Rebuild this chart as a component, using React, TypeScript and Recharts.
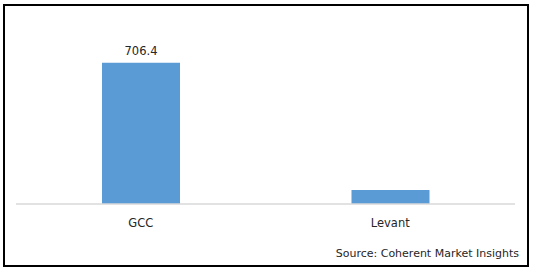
import { FC } from 'react';
import { BarChart, Bar, XAxis, YAxis, LabelList } from 'recharts';

const categories = ['GCC', 'Levant'];
const values = [706.4, 70];
const shownLabels = ['706.4', ''];

const data = categories.map((name, i) => ({ name, value: values[i], label: shownLabels[i] }));

const FONT = '"DejaVu Sans", Verdana, sans-serif';

const App: FC = () => {
	return (
		<div style={{ position: 'fixed', left: 0, top: 0, width: 534, height: 271, background: '#fff' }}>
			<div
				style={{
					position: 'absolute',
					left: 3,
					top: 4,
					width: 522,
					height: 259,
					border: '2px solid #000',
				}}
			></div>
			<BarChart
				width={534}
				height={271}
				data={data}
				margin={{ top: 44, right: 19, bottom: 37, left: 16 }}
			>
				<XAxis
					dataKey='name'
					axisLine={{ stroke: '#d9d9d9', strokeWidth: 1.5 }}
					tickLine={false}
					height={30}
					tick={{ fill: '#262626', fontSize: 11.5, fontFamily: FONT }}
					tickMargin={9}
				/>
				<YAxis hide domain={[0, 800]} />
				<Bar dataKey='value' fill='#5b9bd5' barSize={78} isAnimationActive={false}>
					<LabelList
						dataKey='label'
						position='top'
						offset={8}
						style={{ fill: '#262626', fontSize: 11.5, fontFamily: FONT }}
					/>
				</Bar>
			</BarChart>
			<div
				style={{
					position: 'absolute',
					right: 15,
					top: 247,
					fontSize: 11,
					fontFamily: FONT,
					color: '#262626',
				}}
			>
				Source: Coherent Market Insights
			</div>
		</div>
	);
};

export default App;
